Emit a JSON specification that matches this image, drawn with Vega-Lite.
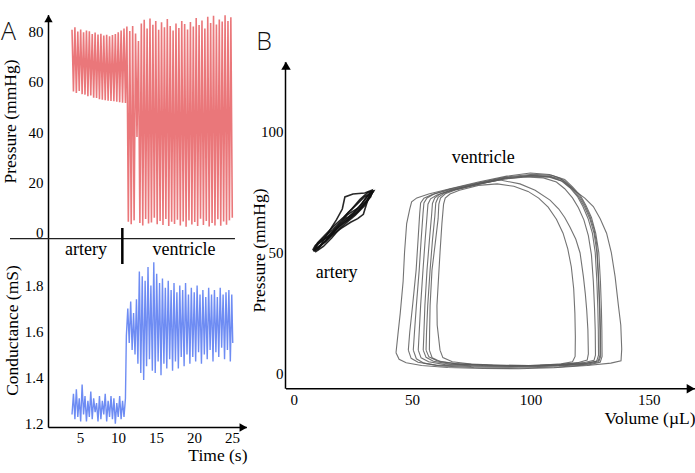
{
"$schema": "https://vega.github.io/schema/vega-lite/v6.json",
"width": 695, "height": 473,
"autosize": {"type": "none"},
"padding": 0,
"background": "white",
"config": {"view": {"stroke": null}, "axis": {"grid": false, "ticks": false, "domainColor": "black", "domainWidth": 1.5, "labelFont": "Liberation Serif", "labelFontSize": 15, "labelColor": "black", "titleFont": "Liberation Serif", "titleFontSize": 17.5, "titleFontWeight": "normal", "titleColor": "black"}},
"datasets": {
"pressure": [
{"t":3.95,"p":80.5},{"t":4.14,"p":56.0},{"t":4.33,"p":81.5},{"t":4.52,"p":55.5},{"t":4.71,"p":79.8},{"t":4.90,"p":56.2},{"t":5.09,"p":80.6},{"t":5.28,"p":55.0},{"t":5.47,"p":79.5},{"t":5.66,"p":54.8},{"t":5.85,"p":80.2},{"t":6.04,"p":54.2},{"t":6.23,"p":79.9},{"t":6.42,"p":54.5},{"t":6.61,"p":78.8},{"t":6.80,"p":53.6},{"t":6.99,"p":79.4},{"t":7.18,"p":53.5},{"t":7.37,"p":78.6},{"t":7.56,"p":53.0},{"t":7.75,"p":78.9},{"t":7.94,"p":52.8},{"t":8.13,"p":78.2},{"t":8.32,"p":52.6},{"t":8.51,"p":78.5},{"t":8.70,"p":52.4},{"t":8.89,"p":77.9},{"t":9.08,"p":52.3},{"t":9.27,"p":78.4},{"t":9.46,"p":52.2},{"t":9.65,"p":78.8},{"t":9.84,"p":52.0},{"t":10.03,"p":79.5},{"t":10.22,"p":51.8},{"t":10.41,"p":80.2},{"t":10.60,"p":51.6},{"t":10.79,"p":81.0},{"t":10.98,"p":51.5},{"t":11.17,"p":81.8},
{"t":11.36,"p":4.5},{"t":11.55,"p":80},{"t":11.74,"p":3.5},{"t":11.93,"p":82},{"t":12.12,"p":5},{"t":12.31,"p":79},{"t":12.50,"p":38},{"t":12.69,"p":76},{"t":12.88,"p":4},{"t":13.07,"p":83},{"t":13.26,"p":3},{"t":13.45,"p":84.5},{"t":13.64,"p":5.5},{"t":13.83,"p":81},{"t":14.02,"p":3.8},{"t":14.21,"p":85},{"t":14.40,"p":4.2},{"t":14.59,"p":82.5},{"t":14.78,"p":6},{"t":14.97,"p":84},{"t":15.16,"p":3.5},{"t":15.35,"p":80.5},{"t":15.54,"p":4.8},{"t":15.73,"p":83.5},{"t":15.92,"p":3.2},{"t":16.11,"p":81.5},{"t":16.30,"p":5.5},{"t":16.49,"p":84.8},{"t":16.68,"p":2.8},{"t":16.87,"p":82},{"t":17.06,"p":4.5},{"t":17.25,"p":80.2},{"t":17.44,"p":3.6},{"t":17.63,"p":83},{"t":17.82,"p":5.2},{"t":18.01,"p":81.2},{"t":18.20,"p":3},{"t":18.39,"p":84},{"t":18.58,"p":4.6},{"t":18.77,"p":82.8},{"t":18.96,"p":2.5},{"t":19.15,"p":80.6},{"t":19.34,"p":5},{"t":19.53,"p":83.6},{"t":19.72,"p":3.4},{"t":19.91,"p":81.8},{"t":20.10,"p":4.4},{"t":20.29,"p":85.2},{"t":20.48,"p":2.8},{"t":20.67,"p":82.4},{"t":20.86,"p":5.6},{"t":21.05,"p":84.2},{"t":21.24,"p":3.2},{"t":21.43,"p":81},{"t":21.62,"p":4.8},{"t":21.81,"p":85.6},{"t":22.00,"p":2.6},{"t":22.19,"p":83.2},{"t":22.38,"p":4},{"t":22.57,"p":86},{"t":22.76,"p":3},{"t":22.95,"p":82.6},{"t":23.14,"p":5.4},{"t":23.33,"p":84.6},{"t":23.52,"p":2.9},{"t":23.71,"p":83.8},{"t":23.90,"p":4.6},{"t":24.09,"p":86.2},{"t":24.28,"p":3.3},{"t":24.47,"p":84},{"t":24.66,"p":5},{"t":24.85,"p":85.4},{"t":25.04,"p":6}
],
"cond": [
{"t":3.95,"c":1.24},{"t":4.14,"c":1.33},{"t":4.33,"c":1.22},{"t":4.52,"c":1.35},{"t":4.71,"c":1.23},{"t":4.90,"c":1.31},{"t":5.09,"c":1.21},{"t":5.28,"c":1.37},{"t":5.47,"c":1.24},{"t":5.66,"c":1.32},{"t":5.85,"c":1.21},{"t":6.04,"c":1.30},{"t":6.23,"c":1.23},{"t":6.42,"c":1.34},{"t":6.61,"c":1.22},{"t":6.80,"c":1.31},{"t":6.99,"c":1.25},{"t":7.18,"c":1.29},{"t":7.37,"c":1.21},{"t":7.56,"c":1.32},{"t":7.75,"c":1.22},{"t":7.94,"c":1.30},{"t":8.13,"c":1.24},{"t":8.32,"c":1.33},{"t":8.51,"c":1.21},{"t":8.70,"c":1.30},{"t":8.89,"c":1.23},{"t":9.08,"c":1.32},{"t":9.27,"c":1.22},{"t":9.46,"c":1.31},{"t":9.65,"c":1.20},{"t":9.84,"c":1.29},{"t":10.03,"c":1.23},{"t":10.22,"c":1.32},{"t":10.41,"c":1.22},{"t":10.60,"c":1.30},{"t":10.79,"c":1.23},{"t":10.98,"c":1.31},
{"t":11.10,"c":1.58},{"t":11.29,"c":1.70},{"t":11.48,"c":1.55},{"t":11.67,"c":1.73},{"t":11.86,"c":1.52},{"t":12.05,"c":1.68},{"t":12.24,"c":1.50},{"t":12.43,"c":1.74},{"t":12.62,"c":1.46},{"t":12.81,"c":1.86},{"t":13.00,"c":1.42},{"t":13.19,"c":1.84},{"t":13.38,"c":1.39},{"t":13.57,"c":1.82},{"t":13.76,"c":1.45},{"t":13.95,"c":1.88},{"t":14.14,"c":1.48},{"t":14.33,"c":1.80},{"t":14.52,"c":1.43},{"t":14.71,"c":1.90},{"t":14.90,"c":1.42},{"t":15.09,"c":1.85},{"t":15.28,"c":1.47},{"t":15.47,"c":1.81},{"t":15.66,"c":1.41},{"t":15.85,"c":1.83},{"t":16.04,"c":1.46},{"t":16.23,"c":1.79},{"t":16.42,"c":1.44},{"t":16.61,"c":1.82},{"t":16.80,"c":1.48},{"t":16.99,"c":1.78},{"t":17.18,"c":1.43},{"t":17.37,"c":1.81},{"t":17.56,"c":1.47},{"t":17.75,"c":1.77},{"t":17.94,"c":1.44},{"t":18.13,"c":1.80},{"t":18.32,"c":1.49},{"t":18.51,"c":1.78},{"t":18.70,"c":1.45},{"t":18.89,"c":1.81},{"t":19.08,"c":1.50},{"t":19.27,"c":1.76},{"t":19.46,"c":1.46},{"t":19.65,"c":1.79},{"t":19.84,"c":1.49},{"t":20.03,"c":1.77},{"t":20.22,"c":1.47},{"t":20.41,"c":1.80},{"t":20.60,"c":1.51},{"t":20.79,"c":1.76},{"t":20.98,"c":1.46},{"t":21.17,"c":1.78},{"t":21.36,"c":1.50},{"t":21.55,"c":1.75},{"t":21.74,"c":1.48},{"t":21.93,"c":1.79},{"t":22.12,"c":1.52},{"t":22.31,"c":1.76},{"t":22.50,"c":1.47},{"t":22.69,"c":1.78},{"t":22.88,"c":1.51},{"t":23.07,"c":1.75},{"t":23.26,"c":1.49},{"t":23.45,"c":1.79},{"t":23.64,"c":1.53},{"t":23.83,"c":1.76},{"t":24.02,"c":1.48},{"t":24.21,"c":1.77},{"t":24.40,"c":1.52},{"t":24.59,"c":1.78},{"t":24.78,"c":1.47},{"t":24.97,"c":1.76},{"t":25.10,"c":1.55}
],
"loops": [
{"g":"a","i":0,"v":43.2,"p":8.5},{"g":"a","i":1,"v":44.5,"p":5.8},{"g":"a","i":2,"v":47.5,"p":4.4},{"g":"a","i":3,"v":54,"p":3.2},{"g":"a","i":4,"v":65,"p":2.4},{"g":"a","i":5,"v":80,"p":2.0},{"g":"a","i":6,"v":95,"p":1.9},{"g":"a","i":7,"v":110,"p":2.3},{"g":"a","i":8,"v":124,"p":3.2},{"g":"a","i":9,"v":134,"p":4.2},{"g":"a","i":10,"v":138.3,"p":5.2},{"g":"a","i":11,"v":138.6,"p":10},{"g":"a","i":12,"v":138.2,"p":20},{"g":"a","i":13,"v":137.2,"p":28},{"g":"a","i":14,"v":135.8,"p":40},{"g":"a","i":15,"v":134.2,"p":50},{"g":"a","i":16,"v":132.2,"p":58},{"g":"a","i":17,"v":129.5,"p":64},{"g":"a","i":18,"v":126.6,"p":69},{"g":"a","i":19,"v":123,"p":72.5},{"g":"a","i":20,"v":119.6,"p":75},{"g":"a","i":21,"v":115.3,"p":78.6},{"g":"a","i":22,"v":112.5,"p":80.7},{"g":"a","i":23,"v":108,"p":82.3},{"g":"a","i":24,"v":100,"p":82.9},{"g":"a","i":25,"v":90,"p":81.6},{"g":"a","i":26,"v":78,"p":79.2},{"g":"a","i":27,"v":66,"p":76.4},{"g":"a","i":28,"v":57,"p":74.2},{"g":"a","i":29,"v":52,"p":72.6},{"g":"a","i":30,"v":49.8,"p":71},{"g":"a","i":31,"v":49,"p":68},{"g":"a","i":32,"v":47.7,"p":62},{"g":"a","i":33,"v":46.8,"p":50},{"g":"a","i":34,"v":46.2,"p":38},{"g":"a","i":35,"v":45,"p":25},{"g":"a","i":36,"v":44,"p":16},{"g":"a","i":37,"v":43.2,"p":8.5},
{"g":"b","i":0,"v":48.4,"p":9.6},{"g":"b","i":1,"v":49.6,"p":6.2},{"g":"b","i":2,"v":52.5,"p":4.6},{"g":"b","i":3,"v":60,"p":3.4},{"g":"b","i":4,"v":75,"p":2.8},{"g":"b","i":5,"v":95,"p":2.6},{"g":"b","i":6,"v":112,"p":3.0},{"g":"b","i":7,"v":124,"p":3.8},{"g":"b","i":8,"v":128.9,"p":4.8},{"g":"b","i":9,"v":129.7,"p":7},{"g":"b","i":10,"v":129.6,"p":18},{"g":"b","i":11,"v":129.4,"p":26.2},{"g":"b","i":12,"v":129,"p":35},{"g":"b","i":13,"v":128.7,"p":42},{"g":"b","i":14,"v":128,"p":53.8},{"g":"b","i":15,"v":126.8,"p":60},{"g":"b","i":16,"v":125.2,"p":64.8},{"g":"b","i":17,"v":123.3,"p":69},{"g":"b","i":18,"v":121,"p":73.1},{"g":"b","i":19,"v":117.5,"p":77},{"g":"b","i":20,"v":113.9,"p":80},{"g":"b","i":21,"v":108,"p":81.6},{"g":"b","i":22,"v":100,"p":82},{"g":"b","i":23,"v":90,"p":81},{"g":"b","i":24,"v":78,"p":78.6},{"g":"b","i":25,"v":66,"p":76},{"g":"b","i":26,"v":58.5,"p":74},{"g":"b","i":27,"v":55,"p":72.5},{"g":"b","i":28,"v":53.6,"p":70.5},{"g":"b","i":29,"v":53.2,"p":66},{"g":"b","i":30,"v":52.5,"p":55},{"g":"b","i":31,"v":51.7,"p":42.7},{"g":"b","i":32,"v":50.2,"p":28},{"g":"b","i":33,"v":49,"p":17},{"g":"b","i":34,"v":48.4,"p":9.6},
{"g":"c","i":0,"v":50.5,"p":9.6},{"g":"c","i":1,"v":51.8,"p":6.0},{"g":"c","i":2,"v":55,"p":4.2},{"g":"c","i":3,"v":62,"p":3.0},{"g":"c","i":4,"v":76,"p":2.4},{"g":"c","i":5,"v":95,"p":2.2},{"g":"c","i":6,"v":112,"p":2.6},{"g":"c","i":7,"v":125,"p":3.6},{"g":"c","i":8,"v":129.5,"p":4.6},{"g":"c","i":9,"v":130.3,"p":7},{"g":"c","i":10,"v":130.2,"p":18},{"g":"c","i":11,"v":130,"p":27},{"g":"c","i":12,"v":129.6,"p":38},{"g":"c","i":13,"v":128.9,"p":50},{"g":"c","i":14,"v":127.6,"p":58},{"g":"c","i":15,"v":125.8,"p":64.5},{"g":"c","i":16,"v":123.5,"p":69.5},{"g":"c","i":17,"v":121.2,"p":73.5},{"g":"c","i":18,"v":117.8,"p":77.2},{"g":"c","i":19,"v":114.5,"p":80.2},{"g":"c","i":20,"v":109,"p":82},{"g":"c","i":21,"v":101,"p":82.4},{"g":"c","i":22,"v":90,"p":81.3},{"g":"c","i":23,"v":78,"p":78.9},{"g":"c","i":24,"v":66,"p":76.3},{"g":"c","i":25,"v":59.5,"p":74.3},{"g":"c","i":26,"v":56.3,"p":72.6},{"g":"c","i":27,"v":55,"p":70.5},{"g":"c","i":28,"v":54.6,"p":66},{"g":"c","i":29,"v":53.8,"p":55},{"g":"c","i":30,"v":53,"p":42.7},{"g":"c","i":31,"v":51.8,"p":28},{"g":"c","i":32,"v":51,"p":17},{"g":"c","i":33,"v":50.5,"p":9.6},
{"g":"d","i":0,"v":52.6,"p":9.6},{"g":"d","i":1,"v":53.8,"p":6.4},{"g":"d","i":2,"v":57,"p":4.8},{"g":"d","i":3,"v":64,"p":3.6},{"g":"d","i":4,"v":78,"p":3.0},{"g":"d","i":5,"v":96,"p":2.8},{"g":"d","i":6,"v":112,"p":3.2},{"g":"d","i":7,"v":123,"p":4.0},{"g":"d","i":8,"v":128,"p":5.0},{"g":"d","i":9,"v":128.8,"p":7.5},{"g":"d","i":10,"v":128.7,"p":18},{"g":"d","i":11,"v":128.5,"p":27},{"g":"d","i":12,"v":128.1,"p":38},{"g":"d","i":13,"v":127.4,"p":50},{"g":"d","i":14,"v":126.2,"p":58},{"g":"d","i":15,"v":124.4,"p":64},{"g":"d","i":16,"v":122.2,"p":69},{"g":"d","i":17,"v":120,"p":73},{"g":"d","i":18,"v":116.7,"p":76.8},{"g":"d","i":19,"v":113.2,"p":79.6},{"g":"d","i":20,"v":108,"p":81.2},{"g":"d","i":21,"v":100,"p":81.6},{"g":"d","i":22,"v":90,"p":80.6},{"g":"d","i":23,"v":78,"p":78.3},{"g":"d","i":24,"v":66,"p":75.6},{"g":"d","i":25,"v":60.5,"p":73.8},{"g":"d","i":26,"v":57.8,"p":72.2},{"g":"d","i":27,"v":56.7,"p":70},{"g":"d","i":28,"v":56.3,"p":65},{"g":"d","i":29,"v":55.5,"p":55},{"g":"d","i":30,"v":54.6,"p":42.7},{"g":"d","i":31,"v":53.6,"p":28},{"g":"d","i":32,"v":53,"p":17},{"g":"d","i":33,"v":52.6,"p":9.6},
{"g":"e","i":0,"v":54.7,"p":9.6},{"g":"e","i":1,"v":55.9,"p":6.6},{"g":"e","i":2,"v":59,"p":5.0},{"g":"e","i":3,"v":66,"p":3.8},{"g":"e","i":4,"v":80,"p":3.2},{"g":"e","i":5,"v":98,"p":3.0},{"g":"e","i":6,"v":113,"p":3.4},{"g":"e","i":7,"v":124,"p":4.2},{"g":"e","i":8,"v":128.7,"p":5.2},{"g":"e","i":9,"v":129.4,"p":7.5},{"g":"e","i":10,"v":129.4,"p":18},{"g":"e","i":11,"v":129.2,"p":27},{"g":"e","i":12,"v":128.8,"p":38},{"g":"e","i":13,"v":128.1,"p":50},{"g":"e","i":14,"v":126.9,"p":58},{"g":"e","i":15,"v":125.1,"p":64},{"g":"e","i":16,"v":122.9,"p":68.8},{"g":"e","i":17,"v":120.6,"p":72.8},{"g":"e","i":18,"v":117.3,"p":76.6},{"g":"e","i":19,"v":113.8,"p":79.4},{"g":"e","i":20,"v":108.5,"p":81.3},{"g":"e","i":21,"v":100.5,"p":81.9},{"g":"e","i":22,"v":90,"p":80.9},{"g":"e","i":23,"v":78,"p":78.5},{"g":"e","i":24,"v":67,"p":76},{"g":"e","i":25,"v":62,"p":74.3},{"g":"e","i":26,"v":59.6,"p":72.6},{"g":"e","i":27,"v":58.6,"p":70.3},{"g":"e","i":28,"v":58.2,"p":65},{"g":"e","i":29,"v":57.3,"p":55},{"g":"e","i":30,"v":56.3,"p":42.7},{"g":"e","i":31,"v":55.4,"p":28},{"g":"e","i":32,"v":55,"p":17},{"g":"e","i":33,"v":54.7,"p":9.6},
{"g":"f","i":0,"v":55.9,"p":9.6},{"g":"f","i":1,"v":57.1,"p":6.8},{"g":"f","i":2,"v":60.5,"p":5.2},{"g":"f","i":3,"v":68,"p":4.0},{"g":"f","i":4,"v":82,"p":3.4},{"g":"f","i":5,"v":99,"p":3.2},{"g":"f","i":6,"v":113,"p":3.6},{"g":"f","i":7,"v":122.5,"p":4.4},{"g":"f","i":8,"v":126.9,"p":5.4},{"g":"f","i":9,"v":127.5,"p":7.5},{"g":"f","i":10,"v":127.4,"p":18},{"g":"f","i":11,"v":127.1,"p":27},{"g":"f","i":12,"v":126.6,"p":38},{"g":"f","i":13,"v":125.8,"p":49},{"g":"f","i":14,"v":124.5,"p":57},{"g":"f","i":15,"v":122.6,"p":63.5},{"g":"f","i":16,"v":120.3,"p":68.5},{"g":"f","i":17,"v":117.8,"p":72.6},{"g":"f","i":18,"v":114.5,"p":76.4},{"g":"f","i":19,"v":111,"p":79.2},{"g":"f","i":20,"v":105.5,"p":80.9},{"g":"f","i":21,"v":98,"p":81.3},{"g":"f","i":22,"v":88,"p":80.3},{"g":"f","i":23,"v":77,"p":78},{"g":"f","i":24,"v":68,"p":76},{"g":"f","i":25,"v":63.5,"p":74.5},{"g":"f","i":26,"v":61,"p":72.8},{"g":"f","i":27,"v":60,"p":70.5},{"g":"f","i":28,"v":59.6,"p":65},{"g":"f","i":29,"v":58.6,"p":55},{"g":"f","i":30,"v":57.6,"p":42.7},{"g":"f","i":31,"v":56.6,"p":28},{"g":"f","i":32,"v":56.1,"p":17},{"g":"f","i":33,"v":55.9,"p":9.6},
{"g":"g","i":0,"v":57.3,"p":9.6},{"g":"g","i":1,"v":58.5,"p":6.4},{"g":"g","i":2,"v":62,"p":4.8},{"g":"g","i":3,"v":70,"p":3.8},{"g":"g","i":4,"v":84,"p":3.3},{"g":"g","i":5,"v":100,"p":3.2},{"g":"g","i":6,"v":112,"p":3.6},{"g":"g","i":7,"v":120,"p":4.4},{"g":"g","i":8,"v":124,"p":5.5},{"g":"g","i":9,"v":124.5,"p":8},{"g":"g","i":10,"v":124.3,"p":18},{"g":"g","i":11,"v":123.8,"p":26.2},{"g":"g","i":12,"v":123.2,"p":33},{"g":"g","i":13,"v":122.4,"p":40},{"g":"g","i":14,"v":121,"p":49.8},{"g":"g","i":15,"v":119.2,"p":55.5},{"g":"g","i":16,"v":116.7,"p":60.6},{"g":"g","i":17,"v":114.5,"p":64.5},{"g":"g","i":18,"v":112,"p":68},{"g":"g","i":19,"v":108.3,"p":71.7},{"g":"g","i":20,"v":102,"p":75.8},{"g":"g","i":21,"v":95.6,"p":78.4},{"g":"g","i":22,"v":87.2,"p":80},{"g":"g","i":23,"v":78,"p":78.4},{"g":"g","i":24,"v":68,"p":75.8},{"g":"g","i":25,"v":64,"p":74.3},{"g":"g","i":26,"v":62,"p":72.5},{"g":"g","i":27,"v":61.3,"p":70},{"g":"g","i":28,"v":61,"p":64},{"g":"g","i":29,"v":59.8,"p":54},{"g":"g","i":30,"v":58.4,"p":42.7},{"g":"g","i":31,"v":57.6,"p":28},{"g":"g","i":32,"v":57.4,"p":17},{"g":"g","i":33,"v":57.3,"p":9.6},
{"g":"h","i":0,"v":61.8,"p":9.6},{"g":"h","i":1,"v":63,"p":6.5},{"g":"h","i":2,"v":67,"p":4.8},{"g":"h","i":3,"v":75,"p":3.8},{"g":"h","i":4,"v":90,"p":3.2},{"g":"h","i":5,"v":104,"p":3.3},{"g":"h","i":6,"v":113,"p":3.9},{"g":"h","i":7,"v":117.8,"p":4.8},{"g":"h","i":8,"v":118.9,"p":7},{"g":"h","i":9,"v":119,"p":15},{"g":"h","i":10,"v":118.8,"p":25},{"g":"h","i":11,"v":118.3,"p":35},{"g":"h","i":12,"v":117.3,"p":44},{"g":"h","i":13,"v":115.8,"p":51.5},{"g":"h","i":14,"v":113.8,"p":58},{"g":"h","i":15,"v":111,"p":63.8},{"g":"h","i":16,"v":107.5,"p":68.8},{"g":"h","i":17,"v":103.5,"p":72.5},{"g":"h","i":18,"v":99,"p":75.3},{"g":"h","i":19,"v":93,"p":77.4},{"g":"h","i":20,"v":86,"p":78.4},{"g":"h","i":21,"v":78,"p":77.8},{"g":"h","i":22,"v":70,"p":75.8},{"g":"h","i":23,"v":66,"p":74.2},{"g":"h","i":24,"v":64,"p":72.5},{"g":"h","i":25,"v":63.3,"p":70},{"g":"h","i":26,"v":62.6,"p":62},{"g":"h","i":27,"v":61.8,"p":50},{"g":"h","i":28,"v":61.2,"p":40},{"g":"h","i":29,"v":60.5,"p":28},{"g":"h","i":30,"v":60.6,"p":20},{"g":"h","i":31,"v":61.8,"p":9.6}
],
"artery": [
{"g":"r1","i":0,"v":8.3,"p":50.5},{"g":"r1","i":1,"v":10.5,"p":52.0},{"g":"r1","i":2,"v":14,"p":55.5},{"g":"r1","i":3,"v":17,"p":58.5},{"g":"r1","i":4,"v":20.5,"p":62},{"g":"r1","i":5,"v":24,"p":64.5},{"g":"r1","i":6,"v":27.5,"p":67.5},{"g":"r1","i":7,"v":31,"p":71.5},{"g":"r1","i":8,"v":33.2,"p":74.8},{"g":"r1","i":9,"v":32,"p":74.2},{"g":"r1","i":10,"v":29,"p":70.5},{"g":"r1","i":11,"v":25.5,"p":66.8},{"g":"r1","i":12,"v":22,"p":63.5},{"g":"r1","i":13,"v":18.5,"p":60.5},{"g":"r1","i":14,"v":15.5,"p":57.5},{"g":"r1","i":15,"v":12,"p":54.8},{"g":"r1","i":16,"v":9.5,"p":53.2},{"g":"r1","i":17,"v":8.3,"p":50.5},
{"g":"r2","i":0,"v":9,"p":50.2},{"g":"r2","i":1,"v":12.5,"p":52.5},{"g":"r2","i":2,"v":16,"p":56},{"g":"r2","i":3,"v":19.5,"p":60},{"g":"r2","i":4,"v":23,"p":63},{"g":"r2","i":5,"v":26,"p":65.5},{"g":"r2","i":6,"v":30,"p":69.5},{"g":"r2","i":7,"v":33.5,"p":75.2},{"g":"r2","i":8,"v":31.5,"p":75},{"g":"r2","i":9,"v":28,"p":72},{"g":"r2","i":10,"v":24.5,"p":68},{"g":"r2","i":11,"v":21,"p":64.6},{"g":"r2","i":12,"v":17,"p":61},{"g":"r2","i":13,"v":13.5,"p":57.5},{"g":"r2","i":14,"v":10,"p":54},{"g":"r2","i":15,"v":9,"p":50.2},
{"g":"r3","i":0,"v":8,"p":51},{"g":"r3","i":1,"v":11.5,"p":53},{"g":"r3","i":2,"v":15.5,"p":57},{"g":"r3","i":3,"v":19,"p":60.5},{"g":"r3","i":4,"v":22.5,"p":63.2},{"g":"r3","i":5,"v":27,"p":66.8},{"g":"r3","i":6,"v":32.5,"p":73},{"g":"r3","i":7,"v":33,"p":74.5},{"g":"r3","i":8,"v":30,"p":73.2},{"g":"r3","i":9,"v":26.5,"p":69.8},{"g":"r3","i":10,"v":23,"p":66.5},{"g":"r3","i":11,"v":20,"p":63},{"g":"r3","i":12,"v":16.5,"p":59.5},{"g":"r3","i":13,"v":12.5,"p":56},{"g":"r3","i":14,"v":9,"p":52.8},{"g":"r3","i":15,"v":8,"p":51},
{"g":"r4","i":0,"v":10,"p":51},{"g":"r4","i":1,"v":12.5,"p":55},{"g":"r4","i":2,"v":15.3,"p":59.3},{"g":"r4","i":3,"v":18,"p":63.5},{"g":"r4","i":4,"v":20.5,"p":68},{"g":"r4","i":5,"v":21.6,"p":73},{"g":"r4","i":6,"v":25,"p":74.2},{"g":"r4","i":7,"v":30,"p":74.6},{"g":"r4","i":8,"v":33,"p":75.8},{"g":"r4","i":9,"v":31.5,"p":72.5},{"g":"r4","i":10,"v":29.4,"p":65.8},{"g":"r4","i":11,"v":27,"p":64},{"g":"r4","i":12,"v":24,"p":62.5},{"g":"r4","i":13,"v":20,"p":60},{"g":"r4","i":14,"v":16,"p":57},{"g":"r4","i":15,"v":12,"p":53.5},{"g":"r4","i":16,"v":10,"p":51},
{"g":"r5","i":0,"v":8.6,"p":50.8},{"g":"r5","i":1,"v":11,"p":52.8},{"g":"r5","i":2,"v":13.5,"p":54.5},{"g":"r5","i":3,"v":16.5,"p":57.8},{"g":"r5","i":4,"v":19,"p":61.5},{"g":"r5","i":5,"v":22,"p":64},{"g":"r5","i":6,"v":25,"p":66},{"g":"r5","i":7,"v":28.5,"p":69},{"g":"r5","i":8,"v":31.5,"p":72.5},{"g":"r5","i":9,"v":33.8,"p":75.6},{"g":"r5","i":10,"v":32.8,"p":75.5},{"g":"r5","i":11,"v":30.5,"p":72.8},{"g":"r5","i":12,"v":27.5,"p":68.5},{"g":"r5","i":13,"v":24.5,"p":66.8},{"g":"r5","i":14,"v":22.5,"p":65.5},{"g":"r5","i":15,"v":20.5,"p":62.8},{"g":"r5","i":16,"v":17.5,"p":59.8},{"g":"r5","i":17,"v":14.5,"p":56.6},{"g":"r5","i":18,"v":11.5,"p":54.8},{"g":"r5","i":19,"v":9.5,"p":52.6},{"g":"r5","i":20,"v":8.6,"p":50.8}
]
},
"layer": [
{"data": {"name": "pressure"}, "mark": {"type": "line", "stroke": "#e34a4e", "strokeWidth": 1.6, "opacity": 0.75},
 "encoding": {"x": {"field": "t", "type": "quantitative", "scale": {"domain": [0.79, 26.89], "range": [48, 246.36], "nice": false, "zero": false}, "axis": null},
  "y": {"field": "p", "type": "quantitative", "scale": {"domain": [-2.22, 86.5], "range": [238.6, 14.6], "nice": false, "zero": false},
   "axis": {"orient": "left", "offset": -48, "values": [0, 20, 40, 60, 80], "labelPadding": 5, "labelFont": "Liberation Serif", "labelFontSize": 15, "title": "Pressure (mmHg)", "titleX": -38, "titleY": 121, "titleAngle": -90, "titleAlign": "center", "titleBaseline": "middle"}}}},
{"data": {"values": [{"t0": -4.21, "t1": 25.39, "p": -2.22}]}, "mark": {"type": "rule", "color": "#222", "strokeWidth": 1.3},
 "encoding": {"x": {"field": "t0", "type": "quantitative", "scale": {"domain": [0.79, 26.89], "range": [48, 246.36], "nice": false, "zero": false}, "axis": null}, "x2": {"field": "t1"},
  "y": {"field": "p", "type": "quantitative", "scale": {"domain": [-2.22, 86.5], "range": [238.6, 14.6], "nice": false, "zero": false}, "axis": null}}},
{"data": {"values": [{"t": 10.57, "p1": 1.98, "p2": -12.28}]}, "mark": {"type": "rule", "color": "black", "strokeWidth": 2.5},
 "encoding": {"x": {"field": "t", "type": "quantitative", "scale": {"domain": [0.79, 26.89], "range": [48, 246.36], "nice": false, "zero": false}, "axis": null},
  "y": {"field": "p1", "type": "quantitative", "scale": {"domain": [-2.22, 86.5], "range": [238.6, 14.6], "nice": false, "zero": false}, "axis": null}, "y2": {"field": "p2"}}},
{"data": {"values": [{"t": 5.79, "p": -8.71, "s": "artery"}, {"t": 18.68, "p": -8.71, "s": "ventricle"}]}, "mark": {"type": "text", "font": "Liberation Serif", "fontSize": 18, "align": "center", "baseline": "alphabetic", "color": "black"},
 "encoding": {"x": {"field": "t", "type": "quantitative", "scale": {"domain": [0.79, 26.89], "range": [48, 246.36], "nice": false, "zero": false}, "axis": null},
  "y": {"field": "p", "type": "quantitative", "scale": {"domain": [-2.22, 86.5], "range": [238.6, 14.6], "nice": false, "zero": false}, "axis": null}, "text": {"field": "s"}}},
{"data": {"values": [{"t": -4.41, "p": 76.4, "s": "A"}]}, "mark": {"type": "text", "font": "Open Sans", "fontWeight": 300, "fontSize": 25, "align": "center", "baseline": "alphabetic", "color": "#111"},
 "encoding": {"x": {"field": "t", "type": "quantitative", "scale": {"domain": [0.79, 26.89], "range": [48, 246.36], "nice": false, "zero": false}, "axis": null},
  "y": {"field": "p", "type": "quantitative", "scale": {"domain": [-2.22, 86.5], "range": [238.6, 14.6], "nice": false, "zero": false}, "axis": null}, "text": {"field": "s"}}},
{"data": {"values": [{"t": 0.856, "p": 84.9}]}, "mark": {"type": "point", "shape": "triangle-up", "filled": true, "color": "black", "opacity": 1, "size": 70},
 "encoding": {"x": {"field": "t", "type": "quantitative", "scale": {"domain": [0.79, 26.89], "range": [48, 246.36], "nice": false, "zero": false}, "axis": null},
  "y": {"field": "p", "type": "quantitative", "scale": {"domain": [-2.22, 86.5], "range": [238.6, 14.6], "nice": false, "zero": false}, "axis": null}}},
{"data": {"name": "cond"}, "mark": {"type": "line", "stroke": "#4a6ff0", "strokeWidth": 1.4, "opacity": 0.8},
 "encoding": {"x": {"field": "t", "type": "quantitative", "scale": {"domain": [0.79, 26.89], "range": [48, 246.36], "nice": false, "zero": false},
   "axis": {"orient": "bottom", "offset": -46, "values": [5, 10, 15, 20, 25], "labelPadding": 3, "labelFont": "Liberation Serif", "labelFontSize": 15, "title": "Time (s)", "titleX": 247, "titleY": 28, "titleAlign": "right", "titleBaseline": "middle", "titleAngle": 0}},
  "y": {"field": "c", "type": "quantitative", "scale": {"domain": [1.186, 2.003], "range": [427, 238.6], "nice": false, "zero": false},
   "axis": {"orient": "left", "offset": -48, "values": [1.2, 1.4, 1.6, 1.8], "format": ".1f", "labelPadding": 5, "labelFont": "Liberation Serif", "labelFontSize": 15, "title": "Conductance (mS)", "titleX": -36, "titleY": 330, "titleAngle": -90, "titleAlign": "center", "titleBaseline": "middle"}}}},
{"data": {"values": [{"t": 26.49, "c": 1.184}]}, "mark": {"type": "point", "shape": "triangle-right", "filled": true, "color": "black", "opacity": 1, "size": 75},
 "encoding": {"x": {"field": "t", "type": "quantitative", "scale": {"domain": [0.79, 26.89], "range": [48, 246.36], "nice": false, "zero": false}, "axis": null},
  "y": {"field": "c", "type": "quantitative", "scale": {"domain": [1.186, 2.003], "range": [427, 238.6], "nice": false, "zero": false}, "axis": null}}},
{"data": {"name": "loops"}, "mark": {"type": "line", "stroke": "#5a5a5a", "strokeWidth": 1.1, "opacity": 0.85},
 "encoding": {"x": {"field": "v", "type": "quantitative", "scale": {"domain": [-3.51, 169.57], "range": [285.5, 695], "nice": false, "zero": false},
   "axis": {"orient": "bottom", "offset": -84.7, "values": [0, 50, 100, 150], "labelPadding": 4, "labelFont": "Liberation Serif", "labelFontSize": 15, "title": "Volume (µL)", "titleX": 695, "titleY": 30, "titleAlign": "right", "titleBaseline": "middle", "titleAngle": 0}},
  "y": {"field": "p", "type": "quantitative", "scale": {"domain": [-6.21, 128.98], "range": [388.3, 61.7], "nice": false, "zero": false},
   "axis": {"orient": "left", "offset": -285, "values": [0, 50, 100], "labelPadding": 2, "labelFont": "Liberation Serif", "labelFontSize": 15, "title": "Pressure (mmHg)", "titleX": -26, "titleY": 250, "titleAngle": -90, "titleAlign": "center", "titleBaseline": "middle"}},
  "detail": {"field": "g"}, "order": {"field": "i", "type": "quantitative"}}},
{"data": {"name": "artery"}, "mark": {"type": "line", "stroke": "#111", "strokeWidth": 1.6, "opacity": 0.9},
 "encoding": {"x": {"field": "v", "type": "quantitative", "scale": {"domain": [-3.51, 169.57], "range": [285.5, 695], "nice": false, "zero": false}, "axis": null},
  "y": {"field": "p", "type": "quantitative", "scale": {"domain": [-6.21, 128.98], "range": [388.3, 61.7], "nice": false, "zero": false}, "axis": null},
  "detail": {"field": "g"}, "order": {"field": "i", "type": "quantitative"}}},
{"data": {"values": [{"v": 80.1, "p": 86.9, "s": "ventricle"}, {"v": 18.1, "p": 39.6, "s": "artery"}]}, "mark": {"type": "text", "font": "Liberation Serif", "fontSize": 18, "align": "center", "baseline": "alphabetic", "color": "black"},
 "encoding": {"x": {"field": "v", "type": "quantitative", "scale": {"domain": [-3.51, 169.57], "range": [285.5, 695], "nice": false, "zero": false}, "axis": null},
  "y": {"field": "p", "type": "quantitative", "scale": {"domain": [-6.21, 128.98], "range": [388.3, 61.7], "nice": false, "zero": false}, "axis": null}, "text": {"field": "s"}}},
{"data": {"values": [{"v": -12.6, "p": 133.8, "s": "B"}]}, "mark": {"type": "text", "font": "Open Sans", "fontWeight": 300, "fontSize": 25, "align": "center", "baseline": "alphabetic", "color": "#111"},
 "encoding": {"x": {"field": "v", "type": "quantitative", "scale": {"domain": [-3.51, 169.57], "range": [285.5, 695], "nice": false, "zero": false}, "axis": null},
  "y": {"field": "p", "type": "quantitative", "scale": {"domain": [-6.21, 128.98], "range": [388.3, 61.7], "nice": false, "zero": false}, "axis": null}, "text": {"field": "s"}}},
{"data": {"values": [{"v": -3.3, "p": 127.3}]}, "mark": {"type": "point", "shape": "triangle-up", "filled": true, "color": "black", "opacity": 1, "size": 90},
 "encoding": {"x": {"field": "v", "type": "quantitative", "scale": {"domain": [-3.51, 169.57], "range": [285.5, 695], "nice": false, "zero": false}, "axis": null},
  "y": {"field": "p", "type": "quantitative", "scale": {"domain": [-6.21, 128.98], "range": [388.3, 61.7], "nice": false, "zero": false}, "axis": null}}},
{"data": {"values": [{"v": 167.8, "p": -6.42}]}, "mark": {"type": "point", "shape": "triangle-right", "filled": true, "color": "black", "opacity": 1, "size": 90},
 "encoding": {"x": {"field": "v", "type": "quantitative", "scale": {"domain": [-3.51, 169.57], "range": [285.5, 695], "nice": false, "zero": false}, "axis": null},
  "y": {"field": "p", "type": "quantitative", "scale": {"domain": [-6.21, 128.98], "range": [388.3, 61.7], "nice": false, "zero": false}, "axis": null}}}
],
"resolve": {"scale": {"x": "independent", "y": "independent"}, "axis": {"x": "independent", "y": "independent"}}
}
